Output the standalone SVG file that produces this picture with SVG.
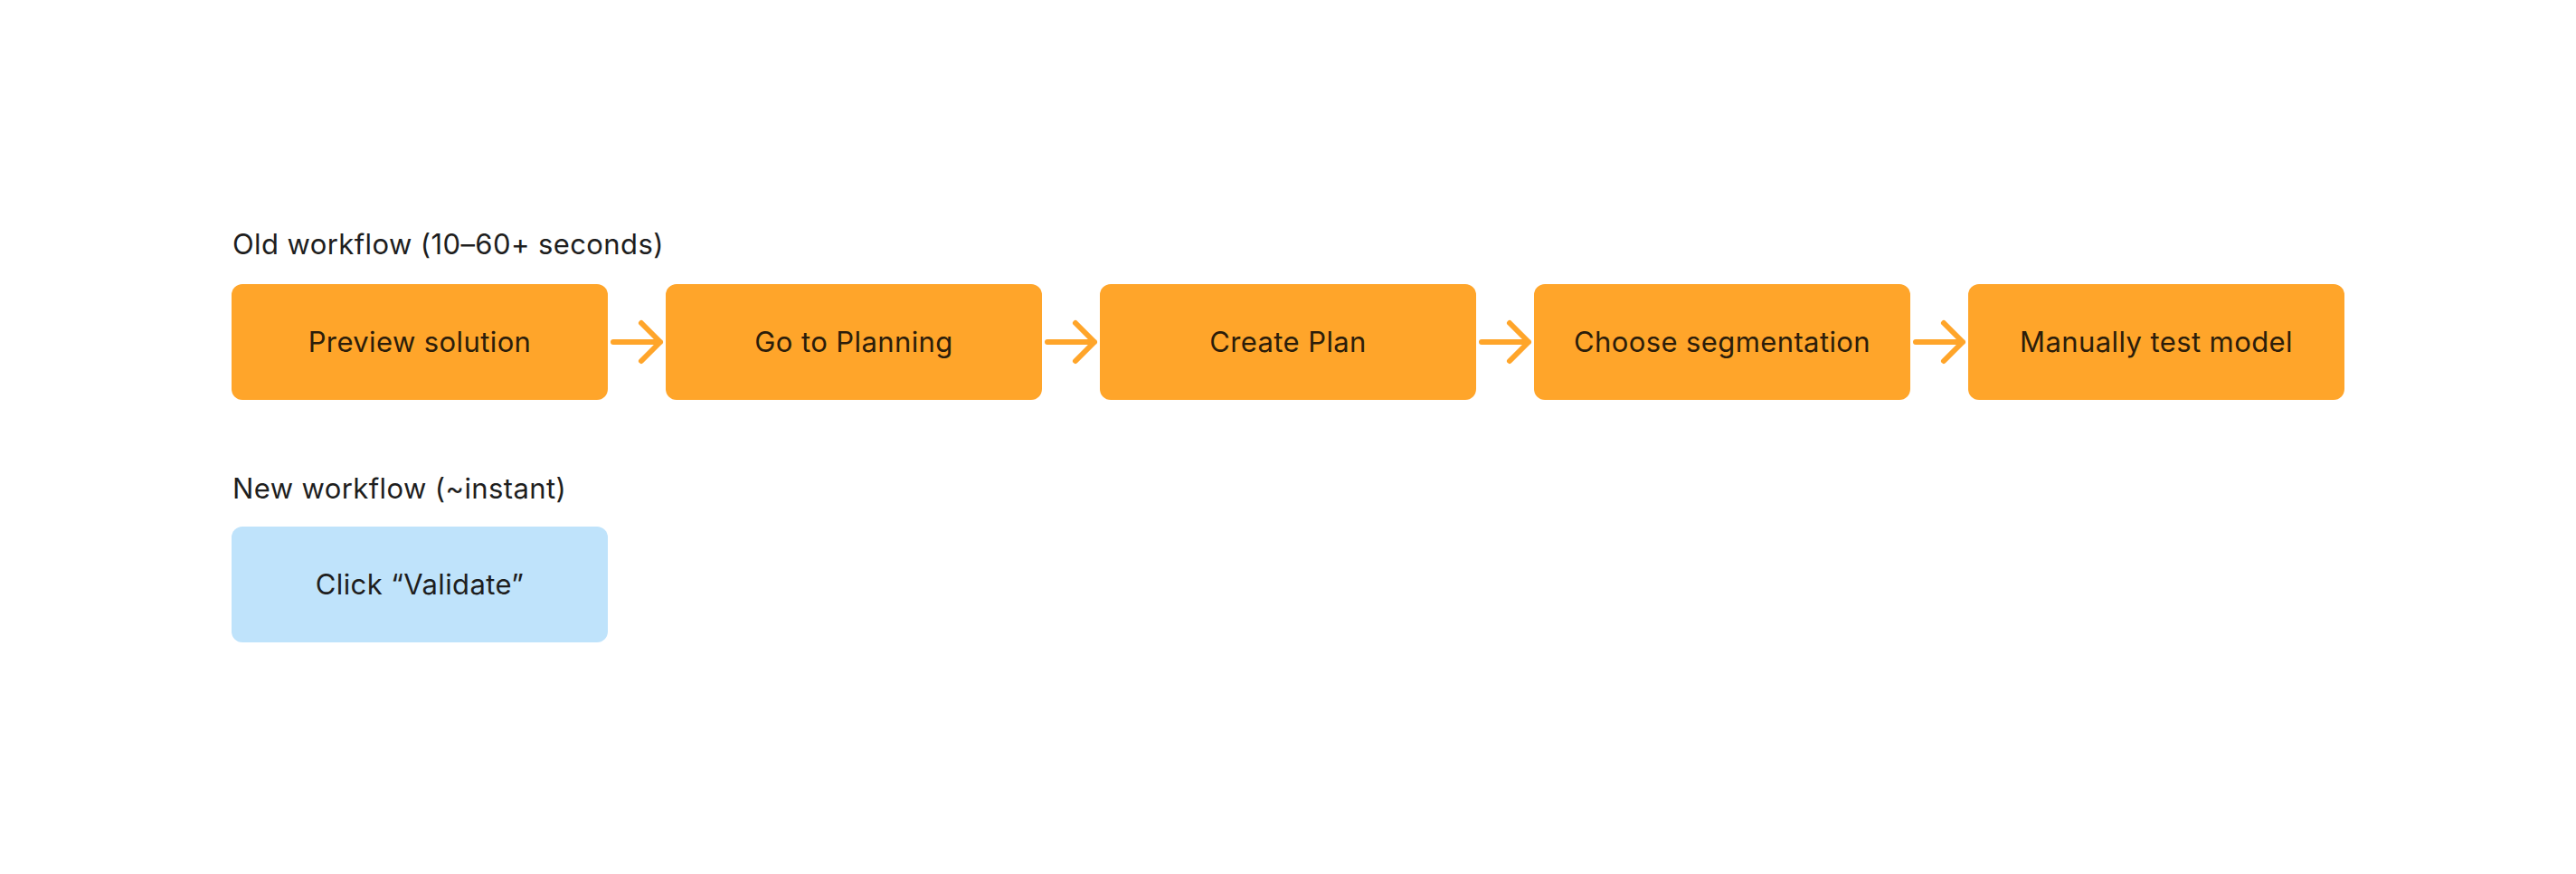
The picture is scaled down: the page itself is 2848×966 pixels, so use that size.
<svg xmlns="http://www.w3.org/2000/svg" width="2848" height="966" viewBox="0 0 2848 966">
<style>
.title{font-family:Inter,"Noto Sans","Liberation Sans",sans-serif;font-size:31px;letter-spacing:0.4px;fill:#1e1e1e}
.lbl{font-family:Inter,"Noto Sans","Liberation Sans",sans-serif;font-size:31px;letter-spacing:0.4px;text-anchor:middle}
.old rect{fill:#FFA52A}
.old text{fill:#2c1d0a}
.new rect{fill:#BFE3FB}
.new text{fill:#1e1e1e}
.conn{fill:none;stroke:#FFA52A;stroke-width:6;stroke-linecap:round;stroke-linejoin:round}
</style>
<rect width="2848" height="966" fill="#ffffff"/>
<text class="title" x="257" y="281">Old workflow (10–60+ seconds)</text>
<text class="title" x="257" y="551">New workflow (~instant)</text>
<g id="n1" class="old"><rect x="256" y="314" width="416" height="128" rx="12"/><text class="lbl" x="464" y="389">Preview solution</text></g>
<g id="n2" class="old"><rect x="736" y="314" width="416" height="128" rx="12"/><text class="lbl" x="944" y="389">Go to Planning</text></g>
<g id="n3" class="old"><rect x="1216" y="314" width="416" height="128" rx="12"/><text class="lbl" x="1424" y="389">Create Plan</text></g>
<g id="n4" class="old"><rect x="1696" y="314" width="416" height="128" rx="12"/><text class="lbl" x="1904" y="389">Choose segmentation</text></g>
<g id="n5" class="old"><rect x="2176" y="314" width="416" height="128" rx="12"/><text class="lbl" x="2384" y="389">Manually test model</text></g>
<g id="n6" class="new"><rect x="256" y="582" width="416" height="128" rx="12"/><text class="lbl" x="464" y="657">Click “Validate”</text></g>
<g id="connectors">
<path class="conn" d="M678 378H730M709 357L730 378L709 399"/>
<path class="conn" d="M1158 378H1210M1189 357L1210 378L1189 399"/>
<path class="conn" d="M1638 378H1690M1669 357L1690 378L1669 399"/>
<path class="conn" d="M2118 378H2170M2149 357L2170 378L2149 399"/>
</g>
</svg>
